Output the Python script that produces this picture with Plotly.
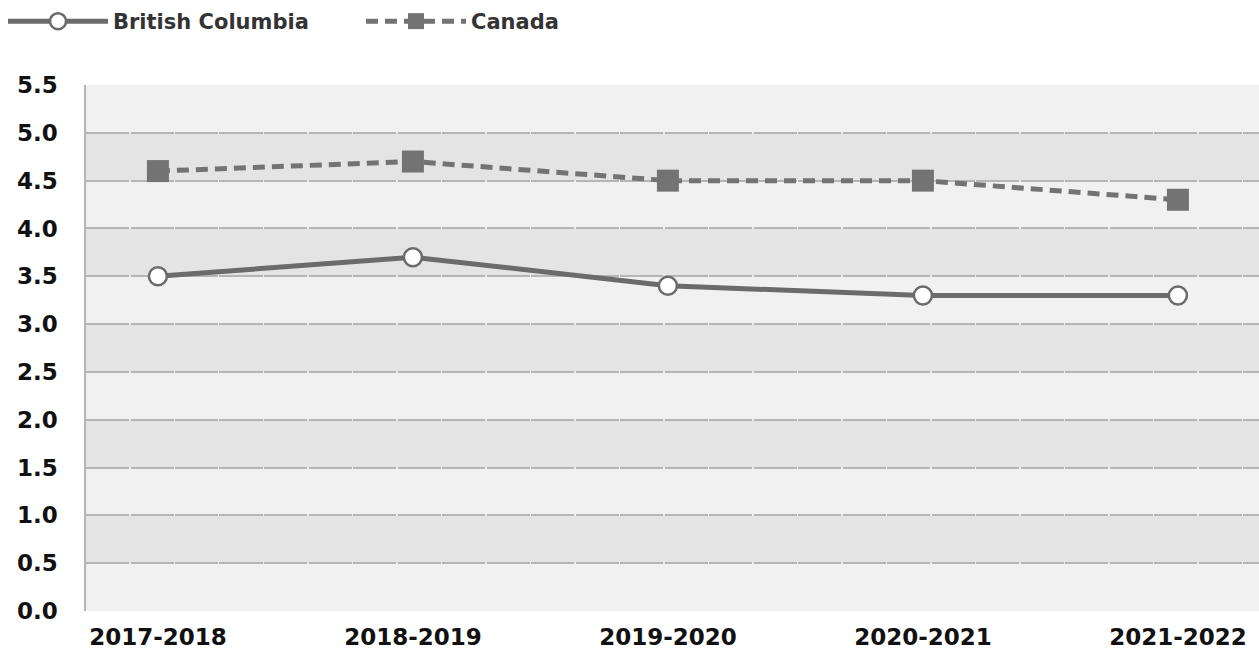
import plotly.graph_objects as go

years = ["2017-2018", "2018-2019", "2019-2020", "2020-2021", "2021-2022"]
bc = [3.5, 3.7, 3.4, 3.3, 3.3]
canada = [4.6, 4.7, 4.5, 4.5, 4.3]
y_ticks = [0.0, 0.5, 1.0, 1.5, 2.0, 2.5, 3.0, 3.5, 4.0, 4.5, 5.0, 5.5]

LINE = "#6b6b6b"
FONT = "DejaVu Sans"

fig = go.Figure()
fig.add_trace(go.Scatter(
    x=years, y=bc, name="British Columbia", mode="lines+markers",
    line=dict(color=LINE, width=5),
    marker=dict(symbol="circle", size=18, color="white", line=dict(color=LINE, width=2.5)),
))
fig.add_trace(go.Scatter(
    x=years, y=canada, name="Canada", mode="lines+markers",
    line=dict(color="#737373", width=5, dash="12px,7px"),
    marker=dict(symbol="square", size=22, color="#737373", line=dict(width=0)),
))

# alternating bands
shapes = []
for i in range(len(y_ticks) - 1):
    if i % 2 == 1:
        shapes.append(dict(type="rect", xref="paper", yref="y", x0=0, x1=1,
                           y0=y_ticks[i], y1=y_ticks[i + 1], fillcolor="#e4e4e4",
                           line=dict(width=0), layer="below"))

fig.update_layout(
    width=1259, height=650,
    margin=dict(l=86, r=0, t=85, b=39),
    paper_bgcolor="white", plot_bgcolor="#f1f1f1",
    shapes=shapes,
    font=dict(family=FONT, color="#111111"),
    showlegend=True,
    legend=dict(orientation="h", x=3 / 1259, y=1 - 1 / 650, xref="container", yref="container",
                xanchor="left", yanchor="top",
                font=dict(family=FONT, size=21, color="#333333", weight="bold"),
                itemwidth=100, entrywidth=243, entrywidthmode="pixels",
                tracegroupgap=0, bgcolor="rgba(0,0,0,0)"),
    xaxis=dict(
        type="category", range=[-0.282, 4.318], showgrid=False,
        showline=False, zeroline=False, ticks="",
        tickfont=dict(family=FONT, size=23, color="#111111", weight="bold"),
        ticklabelstandoff=10,
    ),
    yaxis=dict(
        range=[0, 5.5], tickvals=y_ticks, ticktext=[f"{v:.1f}" for v in y_ticks],
        showgrid=True, gridcolor="#b5b5b5", gridwidth=1.5, griddash="43px,1.5px",
        zeroline=False, showline=True, linecolor="#b5b5b5", linewidth=1.5,
        ticks="", ticklabelstandoff=22,
        tickfont=dict(family=FONT, size=23, color="#111111", weight="bold"),
    ),
)

fig.write_html("out.html")
